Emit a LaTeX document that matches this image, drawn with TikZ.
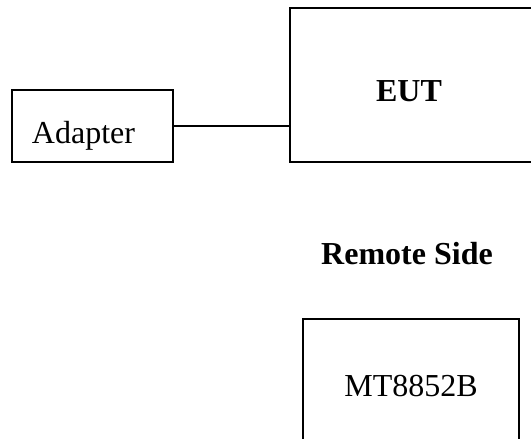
\documentclass[tikz,border=0pt]{standalone}
\usepackage{fontspec}
\setmainfont{Liberation Serif}
\usetikzlibrary{positioning}

\begin{document}
\begin{tikzpicture}[
    x=0.5pt, y=-0.5pt,
    every node/.style={font=\fontsize{16}{19}\selectfont},
    box/.style={rectangle, draw, line width=1pt, inner sep=0pt},
    link/.style={line width=1pt}
]
\useasboundingbox (0,0) rectangle (531,439);
\clip (0,0) rectangle (531,439);

% Adapter
\node[box, anchor=north west, text width=60.5pt, inner xsep=10pt, align=left,
      minimum height=36pt, text height=17pt, text depth=0pt] (adapter) at (11,89) {Adapter};

% EUT (right side runs off the page)
\node[box, anchor=north west, minimum width=140pt, minimum height=77pt] (eut) at (289,7) {};
\node[font=\fontsize{16}{19}\selectfont\bfseries] (euttext) at (409,91) {EUT};

% Remote side
\node[font=\fontsize{16}{19}\selectfont\bfseries] (remote) at (407,254) {Remote Side};

% Tester (bottom runs off the page)
\node[box, anchor=north, minimum width=108pt, minimum height=67pt] (tester) at (411,318) {MT8852B};

% Cable
\draw[link] (adapter.east) -- (adapter.east -| eut.west);

\end{tikzpicture}
\end{document}
